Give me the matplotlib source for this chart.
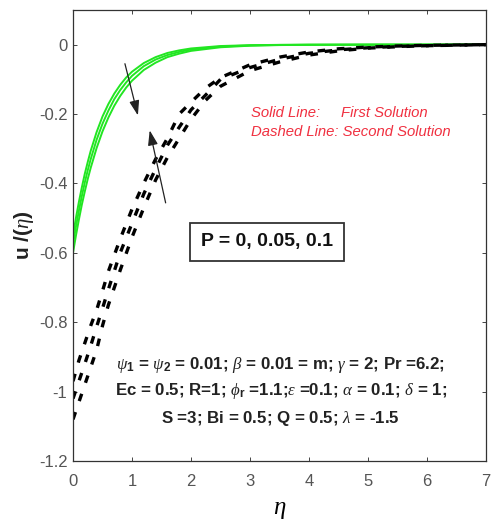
import matplotlib
matplotlib.use("Agg")
import matplotlib.pyplot as plt

plt.rcParams["font.family"] = ["Liberation Sans", "DejaVu Sans"]
plt.rcParams["mathtext.fontset"] = "custom"
plt.rcParams["mathtext.it"] = "Liberation Serif:italic"
plt.rcParams["mathtext.rm"] = "Liberation Sans"
plt.rcParams["mathtext.bf"] = "Liberation Sans:bold"
plt.rcParams["axes.unicode_minus"] = False

# first solution (solid green), P = 0, 0.05, 0.1
eta_first = [0, 0.05, 0.1, 0.15, 0.2, 0.25, 0.3, 0.4, 0.5, 0.6, 0.7, 0.8, 0.9, 1.0, 1.2, 1.4,
             1.6, 1.8, 2.0, 2.5, 3.0, 3.5, 4.0, 5.0, 6.0, 7.0]
first_p0 = [-0.550, -0.499, -0.453, -0.411, -0.372, -0.338, -0.306, -0.252, -0.207, -0.171, -0.141,
            -0.116, -0.095, -0.078, -0.053, -0.036, -0.024, -0.0165, -0.011, -0.004, -0.0016,
            -0.0006, -0.0002, 0.0, 0.0, 0.0]
first_p1 = [-0.575, -0.524, -0.478, -0.436, -0.397, -0.362, -0.330, -0.274, -0.228, -0.190, -0.157,
            -0.131, -0.109, -0.090, -0.062, -0.043, -0.030, -0.021, -0.014, -0.0056, -0.0022,
            -0.0009, -0.0004, -0.0001, 0.0, 0.0]
first_p2 = [-0.600, -0.550, -0.504, -0.461, -0.423, -0.387, -0.355, -0.298, -0.250, -0.210, -0.176,
            -0.148, -0.124, -0.104, -0.073, -0.052, -0.036, -0.026, -0.018, -0.0076, -0.0031,
            -0.0013, -0.0005, -0.0001, 0.0, 0.0]

# second solution (dashed black)
eta_second = [0, 0.1, 0.2, 0.3, 0.4, 0.5, 0.6, 0.8, 1.0, 1.2, 1.4, 1.6, 1.8, 2.0, 2.25, 2.5,
              3.0, 3.5, 4.0, 4.5, 5.0, 5.5, 6.0, 7.0]
second_p0 = [-0.97, -0.91, -0.86, -0.81, -0.765, -0.71, -0.653, -0.56, -0.474, -0.399, -0.33, -0.27,
             -0.20, -0.166, -0.125, -0.095, -0.058, -0.036, -0.021, -0.012, -0.007, -0.004, -0.002, 0.0]
second_p1 = [-1.02, -0.97, -0.92, -0.868, -0.813, -0.76, -0.705, -0.60, -0.515, -0.43, -0.358, -0.29,
             -0.238, -0.188, -0.145, -0.10, -0.066, -0.042, -0.025, -0.015, -0.009, -0.005, -0.003, 0.0]
second_p2 = [-1.08, -1.03, -0.98, -0.93, -0.88, -0.81, -0.75, -0.65, -0.555, -0.47, -0.39, -0.325,
             -0.27, -0.215, -0.16, -0.12, -0.075, -0.05, -0.03, -0.018, -0.010, -0.006, -0.003, 0.0]

x_ticks = [0, 1, 2, 3, 4, 5, 6, 7]
y_ticks = [-1.2, -1.0, -0.8, -0.6, -0.4, -0.2, 0.0]
y_tick_labels = ["-1.2", "-1", "-0.8", "-0.6", "-0.4", "-0.2", "0"]

fig = plt.figure(figsize=(4.91, 5.23), dpi=100)
ax = fig.add_axes([0.1487, 0.1185, 0.8411, 0.8625])

green = "#22e622"
for ys in (first_p0, first_p1, first_p2):
    ax.plot(eta_first, ys, color=green, linewidth=1.4)

for ys in (second_p0, second_p1, second_p2):
    ax.plot(eta_second, ys, color="black", linewidth=2.4, linestyle=(0, (2.3, 3.5)),
            dash_capstyle="butt")

# arrows showing increasing P
arrow_style = dict(arrowstyle="-|>,head_length=0.9,head_width=0.3", color="#222222",
                   lw=0.9, shrinkA=0, shrinkB=0)
ax.annotate("", xy=(1.10, -0.204), xytext=(0.88, -0.055), arrowprops=arrow_style)
ax.annotate("", xy=(1.30, -0.247), xytext=(1.57, -0.456), arrowprops=arrow_style)

red = "#f03040"
ax.text(3.02, -0.198, "Solid Line:", color=red, style="italic", fontsize=10.7, va="center")
ax.text(4.55, -0.198, "First Solution", color=red, style="italic", fontsize=10.7, va="center")
ax.text(3.02, -0.253, "Dashed Line: Second Solution", color=red, style="italic", fontsize=10.7,
        va="center")

ax.text(3.29, -0.568, "P = 0, 0.05, 0.1", fontsize=14, fontweight="bold", ha="center",
        va="center", color="#111111",
        bbox=dict(boxstyle="square,pad=0.55", facecolor="white", edgecolor="#333333", linewidth=1.3))

param_lines = [
    r"$\psi_\mathbf{1}$ = $\psi_\mathbf{2}$ = 0.01; $\beta$ = 0.01 = m; $\gamma$ = 2; Pr =6.2;",
    r"Ec = 0.5; R=1; $\phi_\mathbf{r}$ =1.1;$\epsilon$ =0.1; $\alpha$ = 0.1; $\delta$ = 1;",
    r"S =3; Bi = 0.5; Q = 0.5; $\lambda$ = -1.5",
]
for i, line in enumerate(param_lines):
    ax.text(3.52, -0.922 - 0.0775 * i, line, fontsize=12.2, fontweight="bold", ha="center",
            va="center", color="#222222")

ax.set_xlim(0, 7)
ax.set_ylim(-1.2, 0.1)
ax.set_xticks(x_ticks)
ax.set_yticks(y_ticks)
ax.set_yticklabels(y_tick_labels)
ax.tick_params(direction="in", top=True, right=True, length=3, width=0.7, labelsize=12,
               labelcolor="#555555", color="#444444")
ax.tick_params(axis="x", pad=9)
ax.tick_params(axis="y", pad=4)
for s in ax.spines.values():
    s.set_color("#333333")
    s.set_linewidth(0.9)

ax.set_xlabel(r"$\eta$", fontsize=18, labelpad=6)
ax.set_ylabel(r"u /($\eta$)", fontsize=15, fontweight="bold", labelpad=2, color="#222222")

fig.savefig("out.png", dpi=100)
